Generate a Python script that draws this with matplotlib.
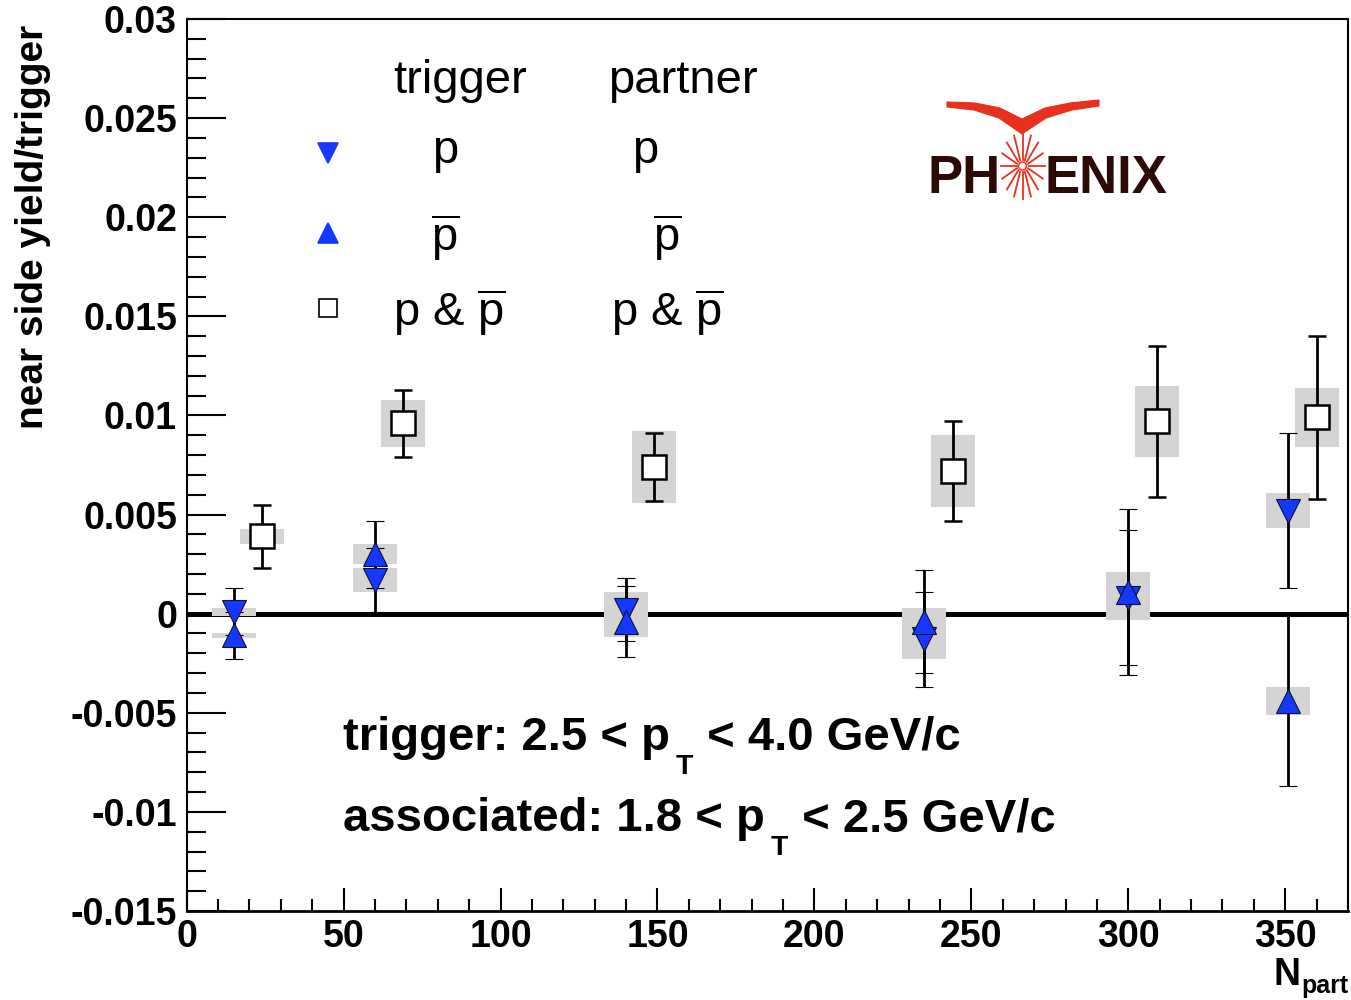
import matplotlib
matplotlib.use('Agg')
import numpy as np
import matplotlib.pyplot as plt
from matplotlib.patches import Rectangle, Polygon
from matplotlib.ticker import MultipleLocator

# trigger p / partner p  (down triangles)
npart_pp = [15, 60, 140, 235, 300, 351]
yield_pp = [0.0001, 0.0017, 0.0002, -0.0013, 0.0008, 0.0052]
stat_pp = [0.0012, 0.0016, 0.0016, 0.0024, 0.0034, 0.0039]
sys_pp = [0.0002, 0.0006, 0.0009, 0.0010, 0.0011, 0.0009]

# trigger pbar / partner pbar  (up triangles)
npart_aa = [15, 60, 140, 235, 300, 351]
yield_aa = [-0.0011, 0.0030, -0.0004, -0.0004, 0.0011, -0.0044]
stat_aa = [0.00118, 0.0017, 0.0018, 0.0026, 0.0042, 0.0043]
sys_aa = [0.00014, 0.0005, 0.0008, 0.0007, 0.0010, 0.0007]

# trigger p & pbar / partner p & pbar  (open squares)
npart_all = [24, 69, 149, 244, 309, 360]
yield_all = [0.0039, 0.0096, 0.0074, 0.0072, 0.0097, 0.0099]
stat_all = [0.0016, 0.0017, 0.0017, 0.0025, 0.0038, 0.0041]
sys_all = [0.00037, 0.0012, 0.0018, 0.0018, 0.0018, 0.0015]

BLUE = '#1538ff'
GREY = '#d4d4d4'
FONT = 'Liberation Sans'

plt.rcParams['font.family'] = [FONT, 'DejaVu Sans']
plt.rcParams['mathtext.fontset'] = 'custom'
plt.rcParams['mathtext.rm'] = FONT
plt.rcParams['mathtext.bf'] = FONT + ':bold'
plt.rcParams['mathtext.it'] = FONT + ':italic'

W, H = 1351, 1000
fig = plt.figure(figsize=(W / 100, H / 100), dpi=100)
renderer = fig.canvas.get_renderer()


def fx(x):
    return x / W


def fy(y):
    return 1 - y / H


ax = fig.add_axes([fx(186.7), fy(911), (1348 - 186.7) / W, (911 - 19) / H])
ax.set_xlim(0, 370)
ax.set_ylim(-0.015, 0.03)

# thick zero line
ax.axhline(0, color='k', lw=3.6, zorder=1)

# systematic boxes
half_w = 7
for nn, yy, ss in [(npart_pp, yield_pp, sys_pp), (npart_aa, yield_aa, sys_aa),
                   (npart_all, yield_all, sys_all)]:
    for n, y, s in zip(nn, yy, ss):
        ax.add_patch(Rectangle((n - half_w, y - s), 2 * half_w, 2 * s,
                               facecolor=GREY, edgecolor='none', zorder=2))

ekw = dict(ecolor='k', elinewidth=2.0, capsize=6.5, capthick=2.0, ms=17, zorder=3)
ax.errorbar(npart_pp, yield_pp, yerr=stat_pp, fmt='v', mfc=BLUE, mec='#101030',
            mew=0.8, **ekw)
ax.errorbar(npart_aa, yield_aa, yerr=stat_aa, fmt='^', mfc=BLUE, mec='#101030',
            mew=0.8, **ekw)
ax.errorbar(npart_all, yield_all, yerr=stat_all, fmt='s', mfc='white', mec='k',
            mew=1.8, **ekw)

# axes style
for side in ['left', 'right', 'top']:
    ax.spines[side].set_linewidth(1.5)
ax.spines['bottom'].set_linewidth(2.0)
ax.xaxis.set_major_locator(MultipleLocator(50))
ax.xaxis.set_minor_locator(MultipleLocator(10))
ax.yaxis.set_major_locator(MultipleLocator(0.005))
ax.yaxis.set_minor_locator(MultipleLocator(0.001))
ax.tick_params(which='both', direction='in', top=False, right=False, width=1.5)
ax.tick_params(axis='y', which='major', length=28, pad=7)
ax.tick_params(axis='y', which='minor', length=14)
ax.tick_params(axis='x', which='major', length=16.5, pad=6)
ax.tick_params(axis='x', which='minor', length=8.5)
ax.set_xticks([0, 50, 100, 150, 200, 250, 300, 350])
ax.set_xticklabels(['0', '50', '100', '150', '200', '250', '300', '350'])
ax.set_yticks([-0.015, -0.01, -0.005, 0, 0.005, 0.01, 0.015, 0.02, 0.025, 0.03])
ax.set_yticklabels(['-0.015', '-0.01', '-0.005', '0', '0.005', '0.01', '0.015',
                    '0.02', '0.025', '0.03'])
for lab in ax.get_xticklabels() + ax.get_yticklabels():
    lab.set_fontsize(27)
    lab.set_fontweight('bold')

fig.text(fx(33), fy(25), 'near side yield/trigger', rotation=90, ha='center',
         va='top', fontsize=28, weight='bold')
fig.text(fx(1300), fy(985), 'N', ha='right', va='baseline', fontsize=27, weight='bold')
fig.text(fx(1301), fy(993), 'part', ha='left', va='baseline', fontsize=18, weight='bold')

# legend: keys plus two text columns
pbar = r'$\overline{\mathrm{p}}$'
key_x = (328 - 186.7) / (1348 - 186.7)
for py, mk, face, edge, size in [(153, 'v', BLUE, BLUE, 14.4), (233, '^', BLUE, BLUE, 14.4),
                                 (308, 's', 'white', 'k', 13)]:
    ax.plot([key_x], [(911 - py) / 892], marker=mk, ls='none', ms=size, mfc=face,
            mec=edge, mew=1.2, transform=ax.transAxes, zorder=5)

lkw = dict(fontsize=34, va='baseline')
fig.text(fx(393), fy(93), 'trigger', ha='left', **lkw)
fig.text(fx(608), fy(93), 'partner', ha='left', **lkw)
fig.text(fx(445), fy(163), 'p', ha='center', **lkw)
fig.text(fx(645), fy(163), 'p', ha='center', **lkw)
fig.text(fx(445), fy(252), pbar, ha='center', **lkw)
fig.text(fx(667), fy(252), pbar, ha='center', **lkw)
fig.text(fx(393), fy(327), 'p & ' + pbar, ha='left', **lkw)
fig.text(fx(611), fy(327), 'p & ' + pbar, ha='left', **lkw)


# kinematic cuts: text, lowered subscript T, rest of the line
def cut_line(x0, base, head, tail):
    t1 = fig.text(fx(x0), fy(base), head, ha='left', va='baseline',
                  fontsize=34, weight='bold')
    x1 = t1.get_window_extent(renderer).x1
    t2 = fig.text((x1 + 6) / W, fy(base + 24), 'T', ha='left', va='baseline',
                  fontsize=20.5, weight='bold')
    x2 = t2.get_window_extent(renderer).x1
    fig.text((x2 + 1) / W, fy(base), tail, ha='left', va='baseline',
             fontsize=34, weight='bold')


cut_line(343, 750, 'trigger: 2.5 < p', ' < 4.0 GeV/c')
cut_line(343, 831, 'associated: 1.8 < p', ' < 2.5 GeV/c')

# PHENIX logo, drawn in its own pixel-scaled axes
lg = fig.add_axes([fx(920), fy(205), 255 / W, 110 / H])
lg.set_xlim(920, 1175)
lg.set_ylim(205, 95)
lg.axis('off')

red = '#e8301c'
dark = '#2c0a08'

logo_kw = dict(fontsize=38, weight='bold', color=dark, va='baseline')
lg.text(1001, 193, 'PH', ha='right', **logo_kw)
lg.text(1045, 193, 'ENIX', ha='left', **logo_kw)

# wings
wing = [(947, 102), (975, 103), (1000, 108), (1022, 119), (1045, 108), (1070, 103),
        (1099, 100), (1099, 106), (1072, 110), (1046, 118), (1022, 134), (999, 118),
        (974, 110), (947, 107)]
lg.add_patch(Polygon(wing, closed=True, facecolor=red, edgecolor=red, lw=0.8))

# starburst "O"
cx, cy = 1022.5, 166
for a in np.linspace(0, 2 * np.pi, 16, endpoint=False):
    lg.plot([cx + 6 * np.cos(a), cx + 22 * np.cos(a)],
            [cy + 6 * np.sin(a), cy + 33 * np.sin(a)], color=red, lw=1.3)
t = np.linspace(0, 2 * np.pi, 60)
lg.plot(cx + 4 * np.cos(t), cy + 4 * np.sin(t), color=red, lw=1.0)

fig.savefig('out.png', dpi=100)
